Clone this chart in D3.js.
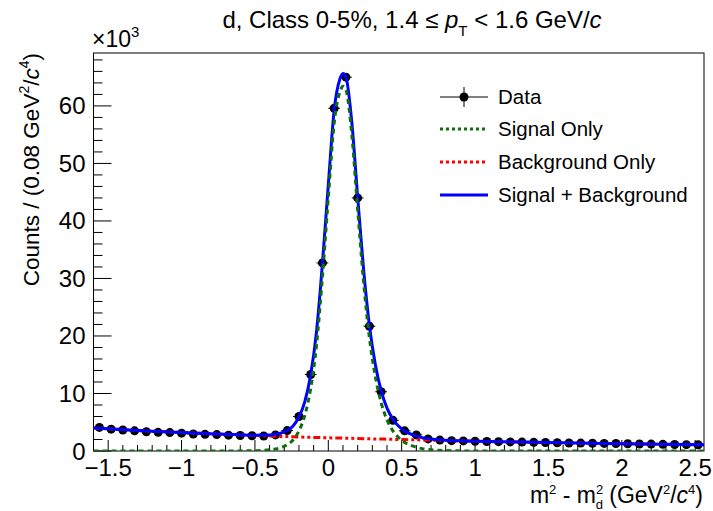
<!DOCTYPE html>
<html><head><meta charset="utf-8">
<script src="https://cdn.jsdelivr.net/npm/d3@7"></script>
<style>
html,body{margin:0;padding:0;background:#fff;}
text{font-family:"Liberation Sans",Arial,Helvetica,sans-serif;fill:#000;}
</style></head>
<body>
<svg id="c" width="713" height="511"></svg>
<script>
// ---- data (counts in units of 10^3) ----
const binCenters = [-1.56,-1.48,-1.40,-1.32,-1.24,-1.16,-1.08,-1.00,-0.92,-0.84,-0.76,-0.68,-0.60,-0.52,-0.44,-0.36,-0.28,-0.20,-0.12,-0.04,
  0.04,0.12,0.20,0.28,0.36,0.44,0.52,0.60,0.68,0.76,0.84,0.92,1.00,1.08,1.16,1.24,1.32,1.40,1.48,1.56,1.64,1.72,1.80,1.88,1.96,2.04,2.12,2.20,2.28,2.36,2.44,2.52];
const dataCounts = [4.1,3.8,3.65,3.5,3.35,3.25,3.2,3.1,2.95,2.9,2.85,2.75,2.7,2.65,2.6,2.8,3.55,6.0,13.3,32.7,
  59.6,65.0,44.0,21.7,10.3,5.35,3.5,2.8,2.1,1.9,1.8,1.75,1.7,1.65,1.62,1.58,1.55,1.5,1.47,1.43,1.4,1.37,1.35,1.32,1.3,1.26,1.22,1.2,1.16,1.13,1.1,1.08];

const curveX = [-1.6,-1.2,-0.8,-0.6,-0.5,-0.45,-0.4,-0.36,-0.32,-0.28,-0.24,-0.20,-0.16,-0.12,-0.08,-0.04,0.00,0.04,0.08,0.10,0.12,0.16,0.20,0.24,0.28,0.32,0.36,0.40,0.44,0.48,0.52,0.56,0.60,0.64,0.70,0.80,0.90,1.0,1.2,1.6,2.0,2.56];
const signalOnly = [0,0,0,0.02,0.06,0.12,0.2,0.35,0.6,1.1,1.9,3.5,6.2,10.9,18.5,30.3,44.0,57.0,62.5,63.4,62.8,55.0,42.0,29.5,19.7,13.0,8.4,5.4,3.5,2.3,1.5,1.0,0.65,0.4,0.2,0.07,0.02,0,0,0,0,0];
const backgroundOnly = [4.0,3.45,3.0,2.8,2.7,2.65,2.6,2.57,2.53,2.5,2.46,2.43,2.4,2.37,2.34,2.32,2.3,2.27,2.25,2.24,2.22,2.2,2.17,2.15,2.12,2.1,2.08,2.05,2.03,2.0,1.98,1.96,1.94,1.92,1.88,1.82,1.76,1.7,1.6,1.42,1.27,1.08];

const xTicks = [-1.5,-1,-0.5,0,0.5,1,1.5,2,2.5];
const yTicks = [0,10,20,30,40,50,60];
const legendLabels = ["Data","Signal Only","Background Only","Signal + Background"];
const binWidth = 0.08;

// ---- layout ----
const svg = d3.select("#c");
const L=93.5, R=704, T=53, B=451;
const x = d3.scaleLinear().domain([-1.6,2.56]).range([L,R]);
const y = d3.scaleLinear().domain([0,69.2]).range([B,T]);
const green="#0a700a", red="#ff0000", blue="#0000ff";

svg.append("clipPath").attr("id","clip").append("rect").attr("x",L).attr("y",T).attr("width",R-L).attr("height",B-T);

// frame
svg.append("rect").attr("x",L).attr("y",T).attr("width",R-L).attr("height",B-T).attr("fill","none").attr("stroke","#000").attr("stroke-width",1);

// x axis ticks
const xMinor = d3.range(-16,26).map(i=>i/10);
const gx = svg.append("g");
gx.selectAll("line.mn").data(xMinor).join("line")
  .attr("x1",d=>x(d)).attr("x2",d=>x(d)).attr("y1",B).attr("y2",d=>B-(Math.abs(d*2-Math.round(d*2))<1e-6?11:6))
  .attr("stroke","#000").attr("stroke-width",1);
gx.selectAll("text").data(xTicks).join("text")
  .attr("x",d=>x(d)).attr("y",476).attr("text-anchor","middle").attr("font-size",24)
  .text(d=>d<0?"\u2212"+Math.abs(d):String(d));

// y axis ticks
const yMinor = d3.range(0,70,2);
const gy = svg.append("g");
gy.selectAll("line").data(yMinor).join("line")
  .attr("x1",L).attr("x2",d=>L+(d%10===0?18:9)).attr("y1",d=>y(d)).attr("y2",d=>y(d))
  .attr("stroke","#000").attr("stroke-width",1);
gy.selectAll("text").data(yTicks).join("text")
  .attr("x",L-8).attr("y",d=>y(d)+8.5).attr("text-anchor","end").attr("font-size",24)
  .text(d=>d);

// x10^3
const mult = svg.append("text").attr("x",92).attr("y",47).attr("font-size",23);
mult.append("tspan").text("\u00d710");
mult.append("tspan").attr("font-size",15).attr("dy",-10).text("3");

// title
const title = svg.append("text").attr("x",412).attr("y",28).attr("text-anchor","middle").attr("font-size",24);
title.append("tspan").text("d, Class 0-5%, 1.4 \u2264 ");
title.append("tspan").attr("font-style","italic").text("p");
title.append("tspan").attr("font-size",15).attr("dy",8).text("T");
title.append("tspan").attr("dy",-8).text(" < 1.6 GeV/");
title.append("tspan").attr("font-style","italic").text("c");

// x label
const xl = svg.append("text").attr("x",703).attr("y",503).attr("text-anchor","end").attr("font-size",23);
xl.append("tspan").text("m");
xl.append("tspan").attr("font-size",13).attr("dy",-9).text("2");
xl.append("tspan").attr("dy",9).text(" - m");
xl.append("tspan").attr("font-size",13).attr("dy",-9).text("2");
xl.append("tspan").attr("font-size",13).attr("dx",-7.5).attr("dy",15).text("d");
xl.append("tspan").attr("dy",-6).text(" (GeV");
xl.append("tspan").attr("font-size",13).attr("dy",-9).text("2");
xl.append("tspan").attr("dy",9).text("/");
xl.append("tspan").attr("font-style","italic").text("c");
xl.append("tspan").attr("font-size",13).attr("dy",-9).text("4");
xl.append("tspan").attr("dy",9).text(")");

// y label
const yl = svg.append("text").attr("transform","translate(39,53) rotate(-90)").attr("text-anchor","end").attr("font-size",22.5);
yl.append("tspan").text("Counts / (0.08 GeV");
yl.append("tspan").attr("font-size",14).attr("dy",-10).text("2");
yl.append("tspan").attr("dy",10).text("/");
yl.append("tspan").attr("font-style","italic").text("c");
yl.append("tspan").attr("font-size",14).attr("dy",-10).text("4");
yl.append("tspan").attr("dy",10).text(")");

// curves
const plot = svg.append("g").attr("clip-path","url(#clip)");
const pts = (arr)=>curveX.map((d,i)=>[d,arr[i]]);
const totalCurve = curveX.map((d,i)=>[d,signalOnly[i]+backgroundOnly[i]]);
const line = d3.line().x(d=>x(d[0])).y(d=>y(d[1])).curve(d3.curveMonotoneX);

// data points
const gd = plot.append("g");
binCenters.forEach((c,i)=>{
  const v=dataCounts[i], e=Math.sqrt(v*1000)/1000;
  gd.append("line").attr("x1",x(c-binWidth/2)).attr("x2",x(c+binWidth/2)).attr("y1",y(v)).attr("y2",y(v)).attr("stroke","#000").attr("stroke-width",1);
  gd.append("line").attr("x1",x(c)).attr("x2",x(c)).attr("y1",y(v-e)-1).attr("y2",y(v+e)+1).attr("stroke","#000").attr("stroke-width",1);
  gd.append("circle").attr("cx",x(c)).attr("cy",y(v)).attr("r",4.5).attr("fill","#000");
});

plot.append("path").datum(pts(backgroundOnly)).attr("d",line).attr("fill","none").attr("stroke",red).attr("stroke-width",3).attr("stroke-dasharray","7,3,3,3,3,3");
plot.append("path").datum(totalCurve).attr("d",line).attr("fill","none").attr("stroke",blue).attr("stroke-width",3);
plot.append("path").datum(pts(signalOnly)).attr("d",line).attr("fill","none").attr("stroke",green).attr("stroke-width",3).attr("stroke-dasharray","5,4");

// legend
const lg = svg.append("g");
const ly = [97,129,162,195];
const lx1=440, lx2=488;
lg.append("line").attr("x1",lx1).attr("x2",lx2).attr("y1",ly[0]).attr("y2",ly[0]).attr("stroke","#000").attr("stroke-width",1);
lg.append("line").attr("x1",(lx1+lx2)/2).attr("x2",(lx1+lx2)/2).attr("y1",ly[0]-10).attr("y2",ly[0]+10).attr("stroke","#000").attr("stroke-width",1);
lg.append("circle").attr("cx",(lx1+lx2)/2).attr("cy",ly[0]).attr("r",4.5).attr("fill","#000");
lg.append("line").attr("x1",lx1).attr("x2",lx2).attr("y1",ly[1]).attr("y2",ly[1]).attr("stroke",green).attr("stroke-width",3).attr("stroke-dasharray","3,3");
lg.append("line").attr("x1",lx1).attr("x2",lx2).attr("y1",ly[2]).attr("y2",ly[2]).attr("stroke",red).attr("stroke-width",3).attr("stroke-dasharray","3,3");
lg.append("line").attr("x1",lx1).attr("x2",lx2).attr("y1",ly[3]).attr("y2",ly[3]).attr("stroke",blue).attr("stroke-width",3);
lg.selectAll("text").data(legendLabels).join("text")
  .attr("x",498).attr("y",(d,i)=>ly[i]+7).attr("font-size",20.5).text(d=>d);
</script>
</body></html>
